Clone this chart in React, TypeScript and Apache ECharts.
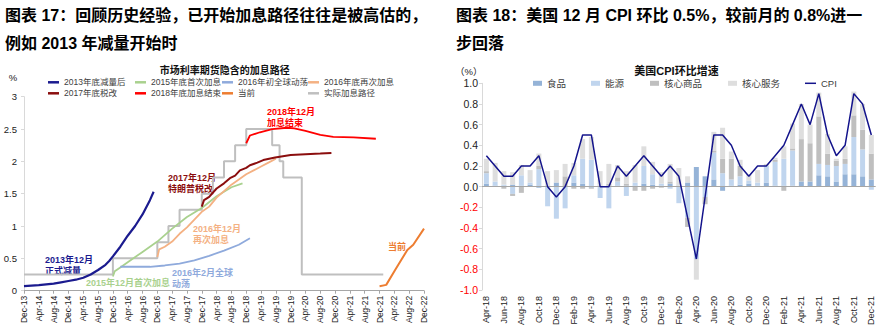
import React, { useEffect, useRef } from "react";
import * as echarts from "echarts";

const FONT = "'Liberation Sans', Arial, 'Noto Sans CJK SC', sans-serif";

// ---------- Left chart data (x = months since Dec-13) ----------
const leftTickLabels = [
  "Dec-13", "Apr-14", "Aug-14", "Dec-14", "Apr-15", "Aug-15", "Dec-15", "Apr-16", "Aug-16",
  "Dec-16", "Apr-17", "Aug-17", "Dec-17", "Apr-18", "Aug-18", "Dec-18", "Apr-19", "Aug-19",
  "Dec-19", "Apr-20", "Aug-20", "Dec-20", "Apr-21", "Aug-21", "Dec-21", "Apr-22", "Aug-22", "Dec-22",
];

const taper2013 = [
  [0, 0.07], [4, 0.085], [8, 0.11], [10, 0.13], [12, 0.15], [14, 0.17], [16, 0.2], [18, 0.25],
  [20, 0.32], [22, 0.4], [23, 0.46], [24, 0.53], [26, 0.68], [28, 0.85], [30, 1.0], [32, 1.18],
  [34, 1.4], [35, 1.53],
];
const hike2015 = [
  [24, 0.22], [24.5, 0.3], [26, 0.36], [28, 0.44], [32, 0.6], [36, 0.76], [40, 0.96], [44, 1.14],
  [48, 1.28], [52, 1.46], [56, 1.6], [59, 1.66],
];
const turmoil2016 = [
  [26, 0.37], [30, 0.37], [34, 0.37], [38, 0.39], [42, 0.42], [46, 0.47], [50, 0.54], [54, 0.62],
  [58, 0.71], [61, 0.81],
];
const hike2016 = [
  [36, 0.52], [36.5, 0.64], [38, 0.68], [40, 0.76], [42, 0.88], [44, 0.98], [46, 1.1], [48, 1.22],
  [50, 1.3], [52, 1.44], [54, 1.54], [56, 1.64], [58, 1.72], [60, 1.8], [62, 1.86], [64, 1.92],
  [66, 1.98], [68, 2.04],
];
const taxReform2017 = [
  [48, 1.3], [48.6, 1.4], [50, 1.45], [52, 1.58], [54, 1.66], [55.6, 1.74], [57, 1.78], [58.3, 1.86],
  [60, 1.9], [61, 1.94], [63, 1.98], [64.6, 2.02], [67.8, 2.06], [72, 2.1], [76, 2.11], [80, 2.12],
  [83, 2.13],
];
const hikeEnd2018 = [
  [60, 2.28], [61, 2.4], [63.7, 2.45], [67, 2.5], [71, 2.52], [73, 2.51], [76, 2.47], [80, 2.41],
  [83.5, 2.38], [89, 2.37], [95, 2.35],
];
const current = [[96, 0.07], [97.8, 0.09], [100.2, 0.32], [103.5, 0.63], [105.1, 0.71], [108, 0.96]];
const actualPath = [
  [0, 0.25], [24, 0.5], [36, 0.75], [39, 1.0], [42, 1.25], [48, 1.5], [51, 1.75], [54, 2.0],
  [57, 2.25], [60, 2.5], [67, 2.25], [69, 2.0], [70, 1.75], [75, 0.25], [97, 0.25],
];

// ---------- Right chart data ----------
const rightMonths = [
  "Apr-18", "May-18", "Jun-18", "Jul-18", "Aug-18", "Sep-18", "Oct-18", "Nov-18", "Dec-18",
  "Jan-19", "Feb-19", "Mar-19", "Apr-19", "May-19", "Jun-19", "Jul-19", "Aug-19", "Sep-19",
  "Oct-19", "Nov-19", "Dec-19", "Jan-20", "Feb-20", "Mar-20", "Apr-20", "May-20", "Jun-20",
  "Jul-20", "Aug-20", "Sep-20", "Oct-20", "Nov-20", "Dec-20", "Jan-21", "Feb-21", "Mar-21",
  "Apr-21", "May-21", "Jun-21", "Jul-21", "Aug-21", "Sep-21", "Oct-21", "Nov-21", "Dec-21",
];
const food = [
  0.03, 0.01, 0.01, 0.02, 0.01, 0.02, -0.01, 0.01, 0.04, 0.0, 0.04, 0.03, -0.01, 0.01, 0.01,
  0.01, 0.01, 0.01, 0.03, 0.02, 0.01, 0.03, 0.01, 0.04, 0.19, 0.1, 0.07, -0.04, 0.01, 0.02,
  0.03, 0.01, 0.04, 0.01, 0.01, 0.01, 0.05, 0.05, 0.11, 0.1, 0.05, 0.12, 0.12, 0.1, 0.07,
];
const energy = [
  0.1, 0.04, 0.01, -0.07, 0.1, 0.02, 0.17, -0.19, -0.31, -0.21, 0.07, 0.24, 0.26, -0.11, -0.21,
  0.04, -0.09, 0.03, 0.17, 0.1, 0.02, -0.02, -0.16, -0.3, -0.7, -0.1, 0.26, 0.13, 0.06, 0.08,
  0.03, 0.03, 0.16, 0.23, 0.26, 0.34, 0.0, 0.0, 0.11, 0.11, 0.15, 0.1, 0.36, 0.26, -0.03,
];
const coreGoods = [
  0.02, 0.0, -0.02, -0.02, -0.06, 0.0, 0.03, 0.0, 0.0, 0.1, -0.02, -0.02, -0.01, 0.0, 0.02,
  0.04, 0.02, -0.04, -0.04, -0.02, -0.01, 0.02, 0.0, -0.09, 0.0, -0.07, 0.02, 0.14, 0.2, 0.1,
  0.0, 0.0, 0.0, 0.02, -0.04, 0.02, 0.41, 0.37, 0.46, 0.11, 0.05, 0.05, 0.21, 0.19, 0.25,
];
const coreServices = [
  0.12, 0.18, 0.13, 0.12, 0.1, 0.12, 0.12, 0.14, 0.12, 0.12, 0.12, 0.19, 0.22, 0.14, 0.19,
  0.12, 0.12, 0.17, 0.19, 0.12, 0.11, 0.17, 0.17, 0.06, -0.2, 0.0, 0.18, 0.3, 0.07, 0.06,
  0.06, 0.12, 0.02, 0.02, 0.12, 0.24, 0.34, 0.18, 0.23, 0.19, 0.02, 0.12, 0.23, 0.25, 0.18,
];
const cpi = [
  0.3, 0.2, 0.1, 0.1, 0.2, 0.2, 0.3, 0.0, -0.1, 0.0, 0.2, 0.5, 0.5, 0.0, 0.0, 0.2, 0.1, 0.2,
  0.3, 0.2, 0.1, 0.2, 0.1, -0.3, -0.7, -0.1, 0.5, 0.5, 0.4, 0.2, 0.1, 0.2, 0.2, 0.3, 0.4, 0.6,
  0.8, 0.6, 0.9, 0.5, 0.3, 0.4, 0.9, 0.8, 0.5,
];

// ---------- Styling ----------
const leftSeriesStyle: Record<string, { color: string; width: number }> = {
  "2013年底减量后": { color: "#1b1b8f", width: 2.2 },
  "2015年底首次加息": { color: "#a9d18e", width: 1.8 },
  "2016年初全球动荡": { color: "#8faadc", width: 1.8 },
  "2016年底再次加息": { color: "#f4b183", width: 1.8 },
  "2017年底税改": { color: "#8b0e0e", width: 2 },
  "2018年底加息结束": { color: "#ff0000", width: 1.8 },
  "当前": { color: "#ed7d31", width: 2 },
  "实际加息路径": { color: "#bfbfbf", width: 2 },
};

const leftLegendLayout: [string, number, number][] = [
  ["2013年底减量后", 48, 82.3],
  ["2015年底首次加息", 135, 82.3],
  ["2016年初全球动荡", 222, 82.3],
  ["2016年底再次加息", 308, 82.3],
  ["2017年底税改", 48, 93.3],
  ["2018年底加息结束", 135, 93.3],
  ["当前", 222, 93.3],
  ["实际加息路径", 308, 93.3],
];

const rightLegendLayout: [string, number, string][] = [
  ["食品", 533, "rect"],
  ["能源", 591, "rect"],
  ["核心商品", 650, "rect"],
  ["核心服务", 728, "rect"],
  ["CPI", 805, "line"],
];

const barColors: Record<string, string> = {
  "食品": "#95b3d7",
  "能源": "#c0d5ee",
  "核心商品": "#bfbfbf",
  "核心服务": "#dedede",
};

function txt(text: string, x: number, y: number, size: number, fill: string, bold = false, align = "left") {
  return {
    type: "text",
    x,
    y,
    silent: true,
    style: {
      text,
      fill,
      align,
      verticalAlign: "middle",
      font: `${bold ? "bold " : ""}${size}px ${FONT}`,
    },
  };
}

export default function App() {
  const ref = useRef<HTMLDivElement>(null);

  useEffect(() => {
    if (!ref.current) return;
    const chart = echarts.init(ref.current, undefined, { renderer: "svg" });

    const leftData: Record<string, number[][]> = {
      "实际加息路径": actualPath,
      "2013年底减量后": taper2013,
      "2015年底首次加息": hike2015,
      "2016年初全球动荡": turmoil2016,
      "2016年底再次加息": hike2016,
      "2017年底税改": taxReform2017,
      "2018年底加息结束": hikeEnd2018,
      "当前": current,
    };

    const leftSeries = Object.keys(leftData).map((name) => ({
      name,
      type: "line",
      xAxisIndex: 0,
      yAxisIndex: 0,
      data: leftData[name],
      step: name === "实际加息路径" ? "end" : undefined,
      symbol: "none",
      lineStyle: { color: leftSeriesStyle[name].color, width: leftSeriesStyle[name].width },
      itemStyle: { color: leftSeriesStyle[name].color },
      z: name === "实际加息路径" ? 1 : 2,
    }));

    const barData: Record<string, number[]> = {
      "食品": food,
      "能源": energy,
      "核心商品": coreGoods,
      "核心服务": coreServices,
    };

    const barSeries = Object.keys(barData).map((name, i) => ({
      name,
      type: "bar",
      xAxisIndex: 1,
      yAxisIndex: 1,
      stack: "cpi",
      barWidth: 5,
      data: barData[name],
      itemStyle: { color: barColors[name] },
      markLine:
        i === 0
          ? {
              silent: true,
              symbol: ["none", "none"],
              label: { show: false },
              lineStyle: { color: "#a6a6a6", width: 1, type: "solid" },
              data: [{ yAxis: 0 }],
              z: 5,
            }
          : undefined,
    }));

    const leftLegendText = { fontSize: 8.5, color: "#404040", fontFamily: FONT, lineHeight: 11 };
    const rightLegendText = { fontSize: 9.5, color: "#404040", fontFamily: FONT, lineHeight: 12 };

    const legends: any[] = [
      ...leftLegendLayout.map(([name, x, y]) => ({
        data: [name],
        left: x,
        top: y - 5.5,
        padding: 0,
        itemGap: 0,
        icon: "rect",
        itemWidth: 11,
        itemHeight: 2.5,
        textStyle: leftLegendText,
        selectedMode: false,
      })),
      ...rightLegendLayout.map(([name, x, kind]) => ({
        data: [name],
        left: x,
        top: 83.3 - 6,
        padding: 0,
        itemGap: 0,
        icon: "rect",
        itemWidth: kind === "line" ? 11 : 9,
        itemHeight: kind === "line" ? 1.5 : 5,
        textStyle: rightLegendText,
        selectedMode: false,
      })),
    ];

    const option = {
      animation: false,
      textStyle: { fontFamily: FONT },
      legend: legends,
      grid: [
        { left: 24, top: 96.7, width: 400, height: 194 },
        { left: 482, top: 83.3, width: 393.7, height: 206.7 },
      ],
      xAxis: [
        {
          type: "value",
          gridIndex: 0,
          min: 0,
          max: 108,
          interval: 4,
          splitLine: { show: false },
          axisLine: { show: true, lineStyle: { color: "#a6a6a6" } },
          axisTick: { show: true, length: 3, lineStyle: { color: "#a6a6a6" } },
          axisLabel: {
            rotate: 90,
            fontSize: 8.5,
            color: "#222",
            margin: 5,
            formatter: (v: number) => leftTickLabels[Math.round(v / 4)] ?? "",
          },
        },
        {
          type: "category",
          gridIndex: 1,
          data: rightMonths,
          boundaryGap: true,
          axisLine: { show: false },
          axisTick: { show: false },
          axisLabel: { rotate: 90, interval: 1, fontSize: 9, color: "#222", margin: 6 },
        },
      ],
      yAxis: [
        {
          type: "value",
          gridIndex: 0,
          min: 0,
          max: 3,
          interval: 0.5,
          splitLine: { show: false },
          axisLine: { show: true, lineStyle: { color: "#d9d9d9" } },
          axisTick: { show: true, length: 3, lineStyle: { color: "#d9d9d9" } },
          axisLabel: { fontSize: 9.5, color: "#222", margin: 7 },
        },
        {
          type: "value",
          gridIndex: 1,
          min: -1,
          max: 1,
          interval: 0.2,
          splitLine: { show: false },
          axisLine: { show: true, lineStyle: { color: "#d9d9d9" } },
          axisTick: { show: true, length: 3, lineStyle: { color: "#d9d9d9" } },
          axisLabel: {
            fontSize: 10.5,
            margin: 4,
            formatter: (v: number) => (Math.abs(v) < 1e-9 ? "0.0" : v.toFixed(1)),
            color: (v: any) => (Number(v) < -1e-9 ? "#ff0000" : "#222"),
          },
        },
      ],
      series: [
        ...leftSeries,
        ...barSeries,
        {
          name: "CPI",
          type: "line",
          xAxisIndex: 1,
          yAxisIndex: 1,
          data: cpi,
          symbol: "none",
          lineStyle: { color: "#14148c", width: 1.5 },
          itemStyle: { color: "#14148c" },
          z: 10,
        },
      ],
      graphic: [
        txt("图表 17：回顾历史经验，已开始加息路径往往是被高估的，", 5, 15, 16, "#000", true),
        txt("例如 2013 年减量开始时", 5, 43.5, 16, "#000", true),
        txt("图表 18：美国 12 月 CPI 环比 0.5%，较前月的 0.8%进一", 456, 15, 16, "#000", true),
        txt("步回落", 456, 43.5, 16, "#000", true),
        txt("市场利率期货隐含的加息路径", 224.7, 70, 10, "#111", true, "center"),
        txt("%", 13, 77.7, 9.5, "#222", false, "center"),
        txt("美国CPI环比增速", 676.5, 70.7, 11, "#111", true, "center"),
        txt("（%）", 455, 71, 9.5, "#222"),
        txt("2018年12月", 267, 112, 9, "#ff0000", true),
        txt("加息结束", 267, 123, 9, "#ff0000", true),
        txt("2017年12月", 168, 178, 9, "#8b0e0e", true),
        txt("特朗普税改", 168, 189, 9, "#8b0e0e", true),
        txt("2016年12月", 193, 229, 9, "#f4b183", true),
        txt("再次加息", 193, 240, 9, "#f4b183", true),
        txt("2013年12月", 45, 260, 9, "#1b1b8f", true),
        txt("正式减量", 45, 271, 9, "#1b1b8f", true),
        txt("2015年12月首次加息", 86, 283, 9, "#a9d18e", true),
        txt("2016年2月全球", 172, 273, 9, "#8faadc", true),
        txt("动荡", 172, 284, 9, "#8faadc", true),
        txt("当前", 388, 247, 9, "#ed7d31", true),
      ],
    };

    chart.setOption(option as any);
    return () => chart.dispose();
  }, []);

  return (
    <div
      ref={ref}
      style={{ position: "fixed", left: 0, top: 0, width: 886, height: 333, background: "#fff" }}
    />
  );
}
